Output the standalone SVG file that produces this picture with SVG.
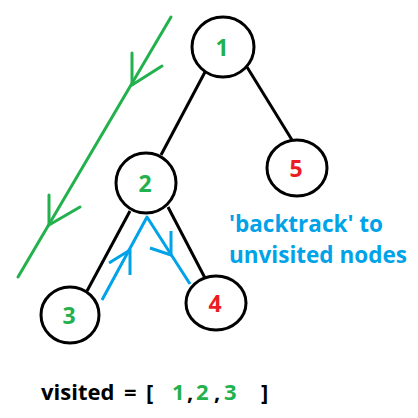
<svg xmlns="http://www.w3.org/2000/svg" width="418" height="418" viewBox="0 0 418 418">
<style>
.n{fill:#fff;stroke:#000;stroke-width:3}
.e{stroke:#000;stroke-width:3;fill:none}
.g{stroke:#22b14c;stroke-width:3;fill:none;stroke-linecap:round;stroke-linejoin:round}
.b{stroke:#00a2e8;stroke-width:3;fill:none;stroke-linejoin:round}
text{font-family:"Open Sans","Noto Sans","DejaVu Sans",sans-serif;font-weight:bold;font-size:22px}
.lbl{text-anchor:middle;font-size:23px}
.cap{font-size:22.5px}
.gt{fill:#22b14c}.rt{fill:#ed1c24}.bt{fill:#00a2e8}
</style>
<rect width="418" height="418" fill="#fff"/>
<g id="connectors">
<line class="e" x1="205" y1="72" x2="161" y2="155"/>
<line class="e" x1="247" y1="67" x2="292" y2="140"/>
<line class="e" x1="130" y1="211" x2="87" y2="291"/>
<line class="e" x1="168" y1="207" x2="205" y2="278"/>
</g>
<g id="traversal">
<line class="g" x1="171" y1="17" x2="18" y2="277"/>
<polyline class="g" points="132,53 132,85 162,66"/>
<polyline class="g" points="49,195 49,225 80,207"/>
<polyline class="b" points="102,300 147,217 190,284"/>
<polyline class="b" points="109,263 130,250 130,275"/>
<polyline class="b" points="171,231 171,255 150,248"/>
</g>
<g id="node1"><ellipse class="n" cx="223" cy="47" rx="31" ry="30"/><text class="lbl gt" x="222" y="56">1</text></g>
<g id="node2"><ellipse class="n" cx="146" cy="183" rx="30" ry="30"/><text class="lbl gt" x="145" y="192">2</text></g>
<g id="node5"><ellipse class="n" cx="297" cy="168" rx="30" ry="28"/><text class="lbl rt" x="296" y="177">5</text></g>
<g id="node3"><ellipse class="n" cx="70" cy="315" rx="29" ry="28"/><text class="lbl gt" x="69" y="324">3</text></g>
<g id="node4"><ellipse class="n" cx="216" cy="303" rx="30" ry="27"/><text class="lbl rt" x="215" y="312">4</text></g>
<g id="caption">
<text class="bt cap" x="229" y="232">'backtrack' to</text>
<text class="bt cap" x="229" y="263">unvisited nodes</text>
</g>
<g id="visited">
<text x="41" y="400">visited</text>
<text x="124" y="400">=</text>
<text x="146" y="400">[</text>
<text class="gt" x="172" y="400">1</text>
<text x="187" y="400">,</text>
<text class="gt" x="196" y="400">2</text>
<text x="214" y="400">,</text>
<text class="gt" x="224" y="400">3</text>
<text x="261" y="400">]</text>
</g>
</svg>
